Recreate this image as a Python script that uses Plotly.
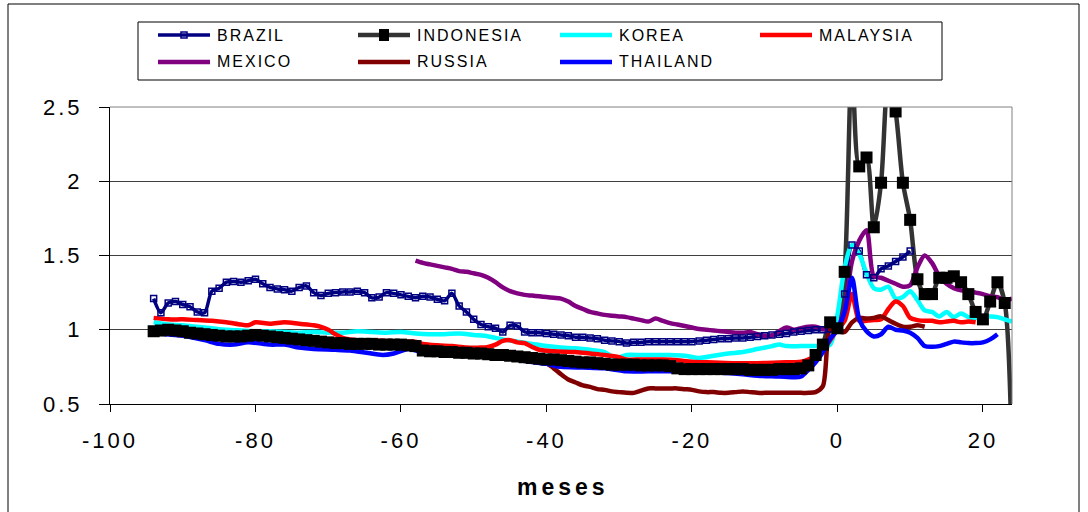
import plotly.graph_objects as go

# ---- data: index relative to crisis month (0) ----
brazil_months = list(range(-94, 11))
brazil = [
    1.21, 1.115, 1.18, 1.19, 1.17, 1.155, 1.12, 1.115, 1.26, 1.28,
    1.32, 1.325, 1.32, 1.33, 1.34, 1.31, 1.285, 1.275, 1.27, 1.26,
    1.285, 1.295, 1.25, 1.23, 1.245, 1.25, 1.255, 1.255, 1.26, 1.25,
    1.215, 1.22, 1.25, 1.245, 1.235, 1.225, 1.215, 1.225, 1.22, 1.205,
    1.195, 1.245, 1.16, 1.12, 1.07, 1.035, 1.02, 1.01, 0.985, 1.03,
    1.025, 0.985, 0.98, 0.98, 0.975, 0.97, 0.965, 0.96, 0.95, 0.95,
    0.945, 0.94, 0.93, 0.925, 0.92, 0.91, 0.915, 0.915, 0.92, 0.92,
    0.92, 0.92, 0.92, 0.92, 0.92, 0.925, 0.93, 0.935, 0.94, 0.94,
    0.945, 0.945, 0.95, 0.955, 0.96, 0.965, 0.97, 0.975, 0.985, 0.99,
    0.995, 1.0, 1.0, 1.005, 1.01, 1.24, 1.57, 1.53, 1.37, 1.35,
    1.41, 1.43, 1.46, 1.49, 1.53,
]

indonesia_months = list(range(-94, 25))
indonesia = [
    0.99, 0.995, 1.0, 0.995, 0.99, 0.98, 0.975, 0.97, 0.965, 0.96,
    0.955, 0.955, 0.955, 0.96, 0.965, 0.96, 0.955, 0.95, 0.945, 0.94,
    0.935, 0.93, 0.925, 0.92, 0.915, 0.91, 0.91, 0.905, 0.905, 0.905,
    0.905, 0.9, 0.9, 0.9, 0.9, 0.895, 0.89, 0.86, 0.855, 0.855,
    0.85, 0.85, 0.845, 0.845, 0.84, 0.84, 0.835, 0.83, 0.83, 0.825,
    0.82, 0.815, 0.81, 0.805, 0.80, 0.80, 0.795, 0.79, 0.785, 0.78,
    0.78, 0.775, 0.77, 0.765, 0.765, 0.765, 0.765, 0.76, 0.76, 0.76,
    0.76, 0.755, 0.74, 0.735, 0.735, 0.735, 0.735, 0.735, 0.735, 0.735,
    0.735, 0.735, 0.73, 0.73, 0.73, 0.73, 0.735, 0.735, 0.735, 0.74,
    0.76, 0.83, 0.90, 1.05, 1.01, 1.39, 2.80, 2.10, 2.16, 1.69,
    1.99, 2.70, 2.47, 1.99, 1.74, 1.34, 1.24, 1.24, 1.35, 1.35,
    1.36, 1.32, 1.24, 1.12, 1.07, 1.19, 1.32, 1.18, 0.10,
]

korea_months = [
    -94, -92, -90, -88, -86, -84, -82, -80, -78, -76,
    -74, -72, -70, -68, -66, -64, -62, -60, -58, -56,
    -54, -52, -50, -48, -46, -44, -42, -40, -38, -36,
    -34, -32, -31, -30, -29, -27, -25, -23, -21, -19,
    -17, -15, -13, -11, -9, -8, -7, -5, -3, -2,
    -1, 0, 1, 2, 3, 4, 5, 6, 7, 8,
    9, 10, 11, 12, 13, 14, 15, 16, 17, 18,
    19, 20, 21, 22, 23, 24,
]
korea = [
    1.05, 1.035, 1.03, 1.02, 1.01, 1.0, 0.995, 0.99, 0.99, 0.985,
    0.98, 0.985, 0.98, 0.98, 0.99, 0.985, 0.98, 0.985, 0.975, 0.97,
    0.97, 0.975, 0.965, 0.955, 0.935, 0.92, 0.905, 0.89, 0.88, 0.875,
    0.865, 0.85, 0.82, 0.815, 0.83, 0.83, 0.83, 0.83, 0.825, 0.81,
    0.825, 0.84, 0.85, 0.87, 0.89, 0.90, 0.89, 0.89, 0.89, 0.89,
    0.90, 1.10, 1.42, 1.57, 1.51, 1.38, 1.28, 1.27, 1.29, 1.21,
    1.22, 1.26, 1.20, 1.13, 1.12, 1.09, 1.12, 1.085, 1.11, 1.085,
    1.08, 1.09, 1.09, 1.085, 1.07, 1.055,
]

malaysia_months = [
    -94, -92, -90, -88, -86, -84, -82, -81, -80, -78,
    -76, -74, -72, -71, -70, -69, -68, -66, -64, -62,
    -60, -58, -57, -55, -53, -51, -49, -48, -47, -46,
    -45, -44, -43, -42, -41, -39, -36, -34, -32, -30,
    -29, -27, -24, -22, -20, -17, -14, -11, -8, -5,
    -4, -3, -2, -1, 0, 1, 2, 3, 4, 5,
    6, 7, 8, 9, 10, 11, 12, 13, 14, 15,
    16, 17, 18, 19,
]
malaysia = [
    1.08, 1.07, 1.07, 1.065, 1.06, 1.05, 1.035, 1.03, 1.05, 1.04,
    1.05, 1.04, 1.03, 1.02, 1.0, 0.97, 0.945, 0.93, 0.93, 0.925,
    0.92, 0.92, 0.905, 0.895, 0.89, 0.88, 0.88, 0.885, 0.90, 0.925,
    0.93, 0.915, 0.91, 0.885, 0.865, 0.855, 0.85, 0.84, 0.83, 0.815,
    0.80, 0.80, 0.80, 0.795, 0.785, 0.78, 0.775, 0.775, 0.78, 0.785,
    0.80, 0.82, 0.86, 0.93, 1.0, 1.06, 1.24, 1.06, 1.06, 1.065,
    1.07, 1.14, 1.19, 1.16, 1.08, 1.065, 1.06, 1.06, 1.05, 1.055,
    1.06, 1.05, 1.055, 1.05,
]

mexico_months = list(range(-58, 25))
mexico = [
    1.465, 1.45, 1.44, 1.43, 1.42, 1.41, 1.395, 1.39, 1.38, 1.37,
    1.35, 1.32, 1.285, 1.26, 1.245, 1.235, 1.23, 1.225, 1.22, 1.215,
    1.21, 1.19, 1.16, 1.14, 1.12, 1.11, 1.10, 1.095, 1.09, 1.085,
    1.075, 1.065, 1.055, 1.075, 1.06, 1.045, 1.035, 1.025, 1.015, 1.005,
    1.0, 0.995, 0.99, 0.985, 0.98, 0.98, 0.985, 0.97, 0.96, 0.96,
    0.99, 1.015, 1.0, 1.01, 1.02, 1.02, 1.005, 1.0, 1.01, 1.15,
    1.46, 1.60, 1.67, 1.36, 1.35, 1.33, 1.31, 1.29, 1.30, 1.42,
    1.50, 1.45, 1.36, 1.31, 1.28, 1.265, 1.26, 1.25, 1.24, 1.225,
    1.22, 1.20, 1.21,
]

russia_months = list(range(-41, 13))
russia = [
    0.78, 0.775, 0.74, 0.70, 0.665, 0.645, 0.625, 0.615, 0.60, 0.595,
    0.585, 0.58, 0.575, 0.575, 0.59, 0.605, 0.605, 0.605, 0.605, 0.605,
    0.60, 0.595, 0.585, 0.58, 0.58, 0.575, 0.575, 0.58, 0.585, 0.58,
    0.575, 0.575, 0.575, 0.575, 0.575, 0.575, 0.575, 0.575, 0.58, 0.62,
    1.0, 0.99, 0.985, 1.05, 1.08, 1.075, 1.08, 1.09, 1.065, 1.04,
    1.02, 1.02, 1.03, 1.02,
]

thailand_months = [
    -94, -90, -87, -85, -83, -81, -78, -76, -74, -72,
    -69, -67, -65, -62.5, -61, -59, -57, -55, -52, -50,
    -47, -45, -43, -40, -38, -35, -32, -29, -26, -23,
    -20, -16, -13, -11, -8, -6, -5, -4, -3, -2,
    -1, 0, 1, 2, 3, 4, 5, 6, 7, 8,
    9, 10, 11, 12, 13, 14, 15, 16, 17, 18,
    19, 20, 21, 22,
]
thailand = [
    0.975, 0.96, 0.93, 0.905, 0.90, 0.915, 0.90, 0.90, 0.88, 0.87,
    0.865, 0.86, 0.847, 0.83, 0.84, 0.87, 0.85, 0.845, 0.83, 0.82,
    0.82, 0.81, 0.79, 0.77, 0.75, 0.745, 0.74, 0.72, 0.72, 0.72,
    0.715, 0.71, 0.70, 0.69, 0.685, 0.68, 0.685, 0.73, 0.78, 0.85,
    0.94, 1.0, 1.12, 1.35, 1.07, 0.99, 0.955, 0.97, 1.02, 1.0,
    0.995, 0.98, 0.945, 0.89, 0.885, 0.89, 0.905, 0.92, 0.915, 0.91,
    0.91, 0.915, 0.935, 0.97,
]

x_ticks = [-100, -80, -60, -40, -20, 0, 20]
x_tick_labels = ["-100", "-80", "-60", "-40", "-20", "0", "20"]
y_ticks = [0.5, 1, 1.5, 2, 2.5]
y_tick_labels = ["0.5", "1", "1.5", "2", "2.5"]

# ---- figure geometry (pixels) ----
W, H = 1088, 512
ML, MR, MT, MB = 110, 76, 107, 108
PW, PH = W - ML - MR, H - MT - MB


def px_x(x):
    return (x - ML) / PW


def px_y(y):
    return (H - MB - y) / PH


def spaced(text, gap):
    """Wrap a label so its glyphs are drawn with extra tracking."""
    return f"<span style='letter-spacing:{gap}px'>{text}</span>"


series = [
    ("BRAZIL", brazil_months, brazil, "#000080", 3.5),
    ("INDONESIA", indonesia_months, indonesia, "#333333", 4.5),
    ("KOREA", korea_months, korea, "#00FFFF", 4.5),
    ("MALAYSIA", malaysia_months, malaysia, "#FF0000", 4.5),
    ("MEXICO", mexico_months, mexico, "#800080", 4.5),
    ("RUSSIA", russia_months, russia, "#800000", 4.5),
    ("THAILAND", thailand_months, thailand, "#0000FF", 4.5),
]

fig = go.Figure()

# lines first, in series order
for name, xs, ys, color, width in series:
    fig.add_trace(go.Scatter(
        x=xs, y=ys, name=name, mode="lines",
        line=dict(color=color, width=width, shape="spline", smoothing=0.8),
        showlegend=False, hoverinfo="skip",
    ))

# markers drawn above all lines
fig.add_trace(go.Scatter(
    x=brazil_months, y=brazil, mode="markers", showlegend=False,
    marker=dict(symbol="square-open", size=6, color="#000080",
                line=dict(color="#000080", width=1.5)),
    hoverinfo="skip",
))
fig.add_trace(go.Scatter(
    x=indonesia_months, y=indonesia, mode="markers", showlegend=False,
    marker=dict(symbol="square", size=12, color="#000000",
                line=dict(width=0)),
    hoverinfo="skip",
))

shapes = []
annotations = []

# plot frame: grey top and right edges
shapes.append(dict(type="line", xref="paper", yref="paper", x0=0, x1=1, y0=1, y1=1,
                   line=dict(color="#808080", width=1)))
shapes.append(dict(type="line", xref="paper", yref="paper", x0=1, x1=1, y0=0, y1=1,
                   line=dict(color="#808080", width=1)))

# outer chart border
shapes.append(dict(type="rect", xref="paper", yref="paper",
                   x0=px_x(8), x1=px_x(1079), y0=px_y(4), y1=px_y(520),
                   line=dict(color="#000000", width=1), fillcolor="rgba(0,0,0,0)",
                   layer="below"))

# legend box
shapes.append(dict(type="rect", xref="paper", yref="paper",
                   x0=px_x(138), x1=px_x(942), y0=px_y(22), y1=px_y(80),
                   line=dict(color="#000000", width=1), fillcolor="white"))

col_x = [158, 358, 560, 760]
row_y = [35, 62]
for i, (name, xs, ys, color, width) in enumerate(series):
    cx = col_x[i % 4]
    ry = row_y[i // 4]
    shapes.append(dict(type="line", xref="paper", yref="paper",
                       x0=px_x(cx), x1=px_x(cx + 52), y0=px_y(ry), y1=px_y(ry),
                       line=dict(color=color, width=width)))
    if name == "BRAZIL":
        shapes.append(dict(type="rect", xref="paper", yref="paper",
                           x0=px_x(cx + 23), x1=px_x(cx + 29), y0=px_y(ry - 3), y1=px_y(ry + 3),
                           line=dict(color="#000080", width=1.5), fillcolor="rgba(0,0,0,0)"))
    if name == "INDONESIA":
        shapes.append(dict(type="rect", xref="paper", yref="paper",
                           x0=px_x(cx + 21), x1=px_x(cx + 31), y0=px_y(ry - 6), y1=px_y(ry + 6),
                           line=dict(width=0), fillcolor="#000000"))
    annotations.append(dict(x=px_x(cx + 57), y=px_y(ry), xref="paper", yref="paper",
                            text=spaced(name, 2), showarrow=False, xanchor="left", yanchor="middle",
                            font=dict(family="Arial", size=16, color="#000000")))

annotations.append(dict(x=px_x(563), y=px_y(487), xref="paper", yref="paper",
                        text="<b>" + spaced("meses", 4) + "</b>", showarrow=False,
                        xanchor="center", yanchor="middle",
                        font=dict(family="Arial", size=23, color="#000000")))

fig.update_layout(
    width=W, height=H,
    margin=dict(l=ML, r=MR, t=MT, b=MB, pad=0),
    paper_bgcolor="white", plot_bgcolor="white",
    showlegend=False,
    shapes=shapes, annotations=annotations,
    xaxis=dict(range=[-100, 24], tickmode="array", tickvals=x_ticks,
               ticktext=[spaced(t, 3) for t in x_tick_labels],
               showgrid=False, zeroline=False, showline=True, linecolor="#000000", linewidth=1,
               ticks="outside", ticklen=7, tickcolor="#000000",
               ticklabelstandoff=10,
               tickfont=dict(family="Arial", size=22, color="#000000")),
    yaxis=dict(range=[0.5, 2.5], tickmode="array", tickvals=y_ticks,
               ticktext=[spaced(t, 3) for t in y_tick_labels],
               showgrid=True, gridcolor="#404040", gridwidth=1, zeroline=False,
               showline=True, linecolor="#000000", linewidth=1,
               ticks="outside", ticklen=10, tickcolor="#000000",
               ticklabelstandoff=12,
               tickfont=dict(family="Arial", size=22, color="#000000")),
)

fig.write_html("out.html")
